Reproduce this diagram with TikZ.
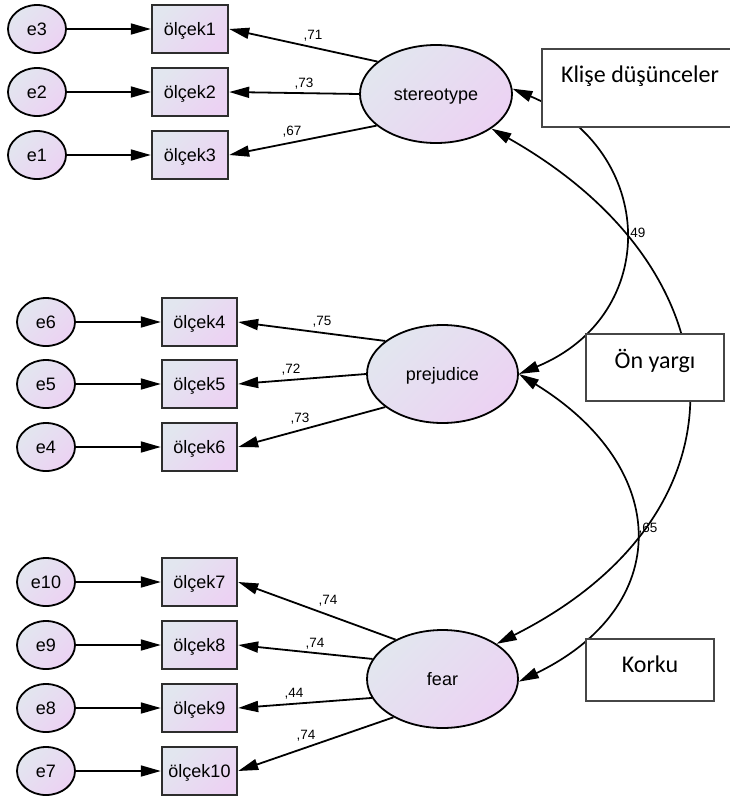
\documentclass[tikz,border=0pt]{standalone}
\usepackage{fontspec}
\setmainfont{Liberation Sans}
\newfontfamily\calib{Carlito}
\usetikzlibrary{arrows.meta,shapes.geometric}
\definecolor{gA}{RGB}{226,230,239}
\definecolor{gB}{RGB}{236,210,243}
\definecolor{bord}{RGB}{45,45,45}
\definecolor{notebord}{RGB}{70,70,70}
\begin{document}
\begin{tikzpicture}[x=1pt,y=-1pt,
  fillg/.style={top color=gA,bottom color=gB,shading angle=45},
  lbl/.style={font=\fontsize{18}{19}\selectfont,text height=12.5pt,text depth=0pt},
  errv/.style={ellipse,draw=black,line width=1.8pt,fillg,minimum width=58pt,minimum height=48pt,inner sep=0pt,lbl},
  obsv/.style={rectangle,draw=bord,line width=2.4pt,fillg,minimum width=75pt,minimum height=48pt,inner sep=0pt,lbl},
  latv/.style={ellipse,draw=black,line width=1.8pt,fillg,minimum width=151pt,minimum height=98pt,inner sep=0pt,lbl},
  arr/.style={line width=1.8pt,-{Triangle[length=20pt,width=11pt]}},
  darr/.style={line width=1.7pt,{Triangle[length=20pt,width=11pt]}-{Triangle[length=20pt,width=11pt]}},
  coef/.style={font=\fontsize{13.5}{14}\selectfont,anchor=base,inner sep=0pt},
  note/.style={rectangle,draw=notebord,line width=1.4pt,fill=white,inner sep=0pt},
  notetext/.style={font=\calib\fontsize{24}{26}\selectfont,anchor=base,inner sep=0pt}
]
\useasboundingbox (0,0) rectangle (730,801);

% top group
\node[errv] (e3) at (37,29) {e3};
\node[errv] (e2) at (37,92) {e2};
\node[errv] (e1) at (37,155) {e1};
\node[obsv,minimum width=76pt] (o1) at (190,29) {ölçek1};
\node[obsv,minimum width=76pt] (o2) at (190,92) {ölçek2};
\node[obsv,minimum width=76pt] (o3) at (190,155) {ölçek3};
\node[latv,minimum width=152pt] (st) at (436,94) {stereotype};

% middle group
\node[errv] (e6) at (46,322) {e6};
\node[errv] (e5) at (46,384) {e5};
\node[errv] (e4) at (46,447) {e4};
\node[obsv] (o4) at (199.5,322) {ölçek4};
\node[obsv] (o5) at (199.5,384) {ölçek5};
\node[obsv] (o6) at (199.5,447) {ölçek6};
\node[latv] (pr) at (442.5,374) {prejudice};

% bottom group
\node[errv] (e10) at (46,582) {e10};
\node[errv] (e9) at (46,645) {e9};
\node[errv] (e8) at (46,708) {e8};
\node[errv] (e7) at (46,771) {e7};
\node[obsv] (o7) at (199.5,582) {ölçek7};
\node[obsv] (o8) at (199.5,645) {ölçek8};
\node[obsv] (o9) at (199.5,708) {ölçek9};
\node[obsv] (o10) at (199.5,771) {ölçek10};
\node[latv] (fe) at (442.5,679) {fear};

% error arrows
\foreach \e/\o in {e3/o1,e2/o2,e1/o3,e6/o4,e5/o5,e4/o6,e10/o7,e9/o8,e8/o9,e7/o10}
  \draw[arr] (\e) -- (\o);

% loadings
\draw[arr] (st.151.5) -- (o1.east);
\draw[arr] (st.180) -- (o2.east);
\draw[arr] (st.208.5) -- (o3.east);
\draw[arr] (pr.150) -- (o4.east);
\draw[arr] (pr.180) -- (o5.east);
\draw[arr] (pr.210) -- (o6.east);
\draw[arr] (fe.140.4) -- (o7.east);
\draw[arr] (fe.164.5) -- (o8.east);
\draw[arr] (fe.195.5) -- (o9.east);
\draw[arr] (fe.218) -- (o10.east);

\node[coef] (c1) at (313,39) {,71};
\node[coef] (c2) at (304,87) {,73};
\node[coef] (c3) at (292,135) {,67};
\node[coef] (c4) at (322,325) {,75};
\node[coef] (c5) at (291,373) {,72};
\node[coef] (c6) at (300,422) {,73};
\node[coef] (c7) at (328,604) {,74};
\node[coef] (c8) at (315,647) {,74};
\node[coef] (c9) at (294,697) {,44};
\node[coef] (c10) at (306,739) {,74};

% covariances
\draw[darr] (st.4) .. controls (657,150) and (662,315) .. (pr.0);
\draw[darr] (st.-32) .. controls (745,272) and (755,514) .. (fe.33);
\draw[darr] (pr.0) .. controls (673,469) and (673,607) .. (fe.-2);
\node[coef] (k1) at (636,237) {,49};
\node[coef] (k2) at (648,532) {,65};

% notes
\node[note,minimum width=190pt,minimum height=78pt] (n1) at (637,88) {};
\node[notetext] (t1) at (640,82) {Klişe düşünceler};
\node[note,minimum width=138pt,minimum height=67pt] (n2) at (655,367.5) {};
\node[notetext] (t2) at (655,368) {Ön yargı};
\node[note,minimum width=128pt,minimum height=62pt] (n3) at (650,670) {};
\node[notetext] (t3) at (650,672) {Korku};
\end{tikzpicture}
\end{document}
